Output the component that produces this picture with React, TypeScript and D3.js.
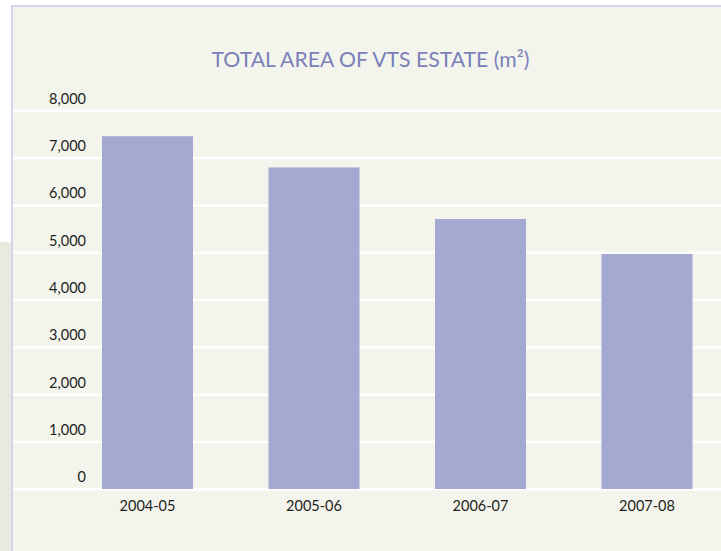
import React from "react";
import * as d3 from "d3";

const categories = ["2004-05", "2005-06", "2006-07", "2007-08"];
const values = [7460, 6800, 5710, 4970];
const yTicks = [0, 1000, 2000, 3000, 4000, 5000, 6000, 7000, 8000];
const title = "TOTAL AREA OF VTS ESTATE (m²)";

export default function App() {
  const W = 721;
  const H = 551;
  const y = d3.scaleLinear().domain([0, 8000]).range([489, 110.7]);
  const x = d3
    .scaleBand<string>()
    .domain(categories)
    .range([64.25, 730.25])
    .paddingInner(0.4535)
    .paddingOuter(0.22675);
  const fmt = d3.format(",");
  const font = "Lato, 'Open Sans', sans-serif";
  return (
    <div style={{ position: "absolute", left: 0, top: 0 }}>
      <svg width={W} height={H} style={{ display: "block" }}>
        <rect x={0} y={0} width={W} height={H} fill="#ffffff" />
        <rect x={0} y={242} width={11} height={H - 242} fill="#e8eadf" />
        <rect x={11} y={5} width={W - 11} height={H - 5} fill="#d3d5ea" />
        <rect x={13} y={7} width={W - 13} height={H - 7} fill="#f3f4ec" />
        {yTicks.map((t) => (
          <rect key={"g" + t} x={13} y={y(t) - 1} width={W - 13} height={2.5} fill="#ffffff" />
        ))}
        {categories.map((c, i) => (
          <rect
            key={c}
            x={x(c)}
            y={y(values[i])}
            width={x.bandwidth()}
            height={y(0) - y(values[i])}
            fill="#a5a8d0"
          />
        ))}
        {yTicks.map((t) => (
          <text
            key={"l" + t}
            x={86}
            y={y(t) - 12}
            dy="0.35em"
            textAnchor="end"
            fontFamily={font}
            fontSize={14.5}
            fill="#231f20"
          >
            {fmt(t)}
          </text>
        ))}
        {categories.map((c) => (
          <text
            key={"x" + c}
            x={(x(c) as number) + x.bandwidth() / 2}
            y={506}
            dy="0.35em"
            textAnchor="middle"
            fontFamily={font}
            fontSize={14.5}
            fill="#231f20"
          >
            {c}
          </text>
        ))}
        <text
          x={370.5}
          y={66.5}
          textAnchor="middle"
          fontFamily={font}
          fontSize={22}
          fill="#7b80bb"
          textLength={318}
          lengthAdjust="spacingAndGlyphs"
        >
          {title}
        </text>
      </svg>
    </div>
  );
}
